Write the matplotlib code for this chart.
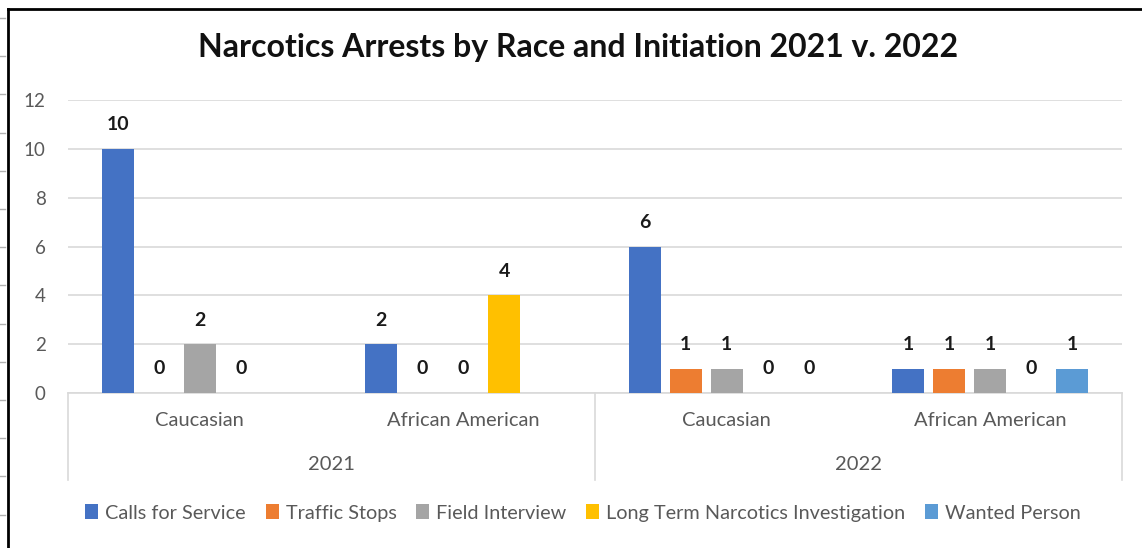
import matplotlib
matplotlib.use('Agg')
import matplotlib.pyplot as plt
from matplotlib.lines import Line2D
from matplotlib.patches import Patch
import numpy as np

# Chart data
races = ['Caucasian', 'African American', 'Caucasian', 'African American']
years = ['2021', '2022']
series_names = ['Calls for Service', 'Traffic Stops', 'Field Interview',
                'Long Term Narcotics Investigation', 'Wanted Person']
calls_for_service = [10, 2, 6, 1]
traffic_stops = [0, 0, 1, 1]
field_interview = [2, 0, 1, 1]
long_term_narcotics = [0, 4, 0, 0]
wanted_person = [None, None, 0, 1]  # not tracked in 2021

series_values = [calls_for_service, traffic_stops, field_interview,
                 long_term_narcotics, wanted_person]
series_colors = ['#4472C4', '#ED7D31', '#A5A5A5', '#FFC000', '#5B9BD5']

plt.rcParams['font.family'] = ['Lato', 'DejaVu Sans']

W, H = 1142, 548
fig = plt.figure(figsize=(W / 100, H / 100), dpi=100)
fig.patch.set_facecolor('white')

# plot area in pixels: x 68..1122, y 100..393
ax = fig.add_axes([68 / W, 1 - 393 / H, (1122 - 68) / W, (393 - 100) / H])

slot = 41 / 263.5
bar_w = 32 / 263.5
x = np.arange(len(races))

for k, (vals, color) in enumerate(zip(series_values, series_colors)):
  for i, v in enumerate(vals):
    if v is None:
      continue
    xpos = x[i] + (k - 2) * slot
    ax.bar(xpos, v, width=bar_w, color=color, zorder=3)
    ax.annotate(str(v), (xpos, v), xytext=(0, 24), textcoords='offset pixels',
                ha='center', va='center', fontsize=14, fontweight='bold',
                color='#1a1a1a')

ax.set_xlim(-0.5, len(races) - 0.5)
ax.set_ylim(0, 12)
ax.set_yticks(np.arange(0, 13, 2))
ax.yaxis.grid(True, color='#d9d9d9', linewidth=1.2, zorder=0)
ax.tick_params(axis='y', length=0, pad=16, labelsize=13.5, labelcolor='#595959')
ax.set_xticks([])
for s in ['top', 'right', 'left']:
  ax.spines[s].set_visible(False)
ax.spines['bottom'].set_color('#d9d9d9')
ax.spines['bottom'].set_linewidth(1.2)

# Two-level category axis
tr = ax.get_xaxis_transform()
axis_depth = -87 / 293
for xv in [-0.5, 1.5, 3.5]:
  ax.plot([xv, xv], [0, axis_depth], transform=tr, color='#d9d9d9',
          linewidth=1.2, clip_on=False)
for i, r in enumerate(races):
  ax.text(x[i], -28 / 293, r, transform=tr, ha='center', va='center',
          fontsize=14.5, color='#595959')
for j, yr in enumerate(years):
  ax.text(0.5 + 2 * j, -72 / 293, yr, transform=tr, ha='center', va='center',
          fontsize=14.5, color='#595959')

# Title
fig.text(578 / W, 1 - 48 / H, 'Narcotics Arrests by Race and Initiation 2021 v. 2022',
         ha='center', va='center', fontsize=23, fontweight='bold', color='#111111')

# Legend
handles = [Patch(facecolor=c, edgecolor='none') for c in series_colors]
leg = fig.legend(handles, series_names, loc='center', bbox_to_anchor=(583 / W, 1 - 513 / H),
                 ncol=5, frameon=False, fontsize=14.3, handlelength=0.65,
                 handleheight=0.75, handletextpad=0.35, columnspacing=1.0)
for t in leg.get_texts():
  t.set_color('#595959')

# Chart frame and sheet row marks
fig.add_artist(Line2D([8 / W, 1], [1 - 9 / H, 1 - 9 / H], color='black', linewidth=2))
fig.add_artist(Line2D([8 / W, 8 / W], [0, 1 - 9 / H], color='black', linewidth=2))
for yp in np.arange(18, H, 38.2):
  fig.add_artist(Line2D([0, 5 / W], [1 - yp / H, 1 - yp / H], color='#b0b0b0', linewidth=1))

fig.savefig('out.png', dpi=100, facecolor='white')
